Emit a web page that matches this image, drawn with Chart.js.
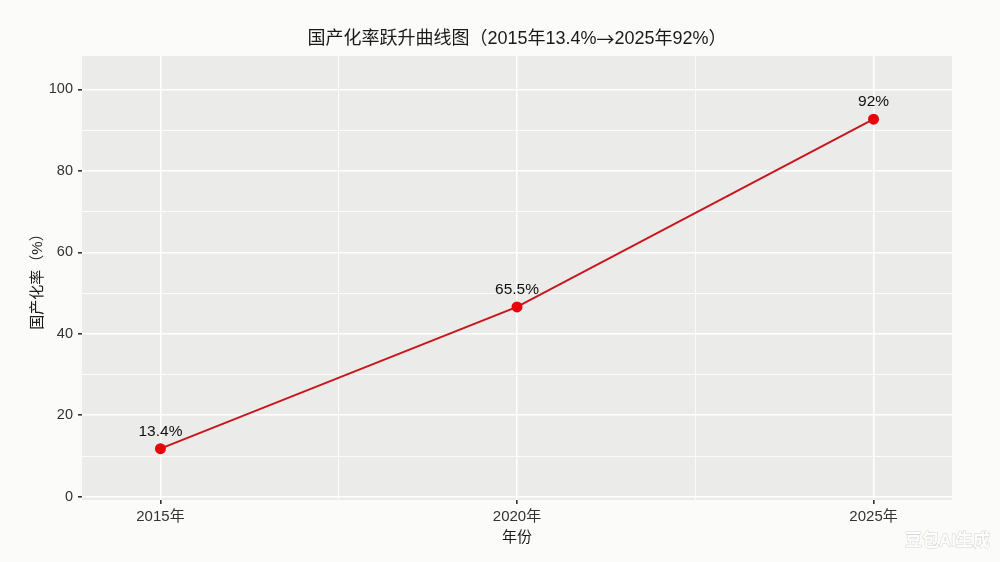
<!DOCTYPE html>
<html>
<head>
<meta charset="utf-8">
<script src="https://cdn.jsdelivr.net/npm/chart.js@4"></script>
<style>
  html, body { margin: 0; padding: 0; background: #fbfbfa; }
  #wrap { width: 1000px; height: 562px; }
</style>
</head>
<body>
<div id="wrap"><canvas id="chart"></canvas></div>
<script>
// 数据
var years = [2015, 2020, 2025];
var rates = [11.8, 46.6, 92.7];
var rateLabels = ['13.4%', '65.5%', '92%'];
var yTicks = [0, 10, 20, 30, 40, 50, 60, 70, 80, 90, 100];
var xTicks = [2015, 2017.5, 2020, 2022.5, 2025];
var chartTitle = '国产化率跃升曲线图（2015年13.4%→2025年92%）';

var FONT = "'Liberation Sans', 'Noto Sans CJK SC', sans-serif";
var CJK = "'Noto Sans CJK SC', sans-serif";

// 标题分段绘制，箭头用 CJK 字体
function drawTitle(c, text, cx, cy) {
  var parts = text.split('→');
  var segs = [];
  parts.forEach(function (p, i) {
    if (i > 0) segs.push({ t: '→', f: '18px ' + CJK });
    segs.push({ t: p, f: '18px ' + FONT });
  });
  var total = 0;
  segs.forEach(function (s) { c.font = s.f; s.w = c.measureText(s.t).width; total += s.w; });
  var x = cx - total / 2;
  c.textAlign = 'left';
  segs.forEach(function (s) { c.font = s.f; c.fillText(s.t, x, cy); x += s.w; });
}

// 灰色面板背景 + 标题 + 点标签 + 水印
var ggPanel = {
  id: 'ggPanel',
  beforeDraw: function (chart) {
    var a = chart.chartArea, c = chart.ctx;
    c.save();
    c.fillStyle = '#ebebea';
    c.fillRect(a.left, a.top, a.right - a.left, a.bottom - a.top);
    c.restore();
  },
  afterDatasetsDraw: function (chart) {
    var c = chart.ctx, a = chart.chartArea;
    var xs = chart.scales.x, ys = chart.scales.y;
    c.save();
    c.textBaseline = 'middle';
    c.fillStyle = '#1a1a1a';
    drawTitle(c, chartTitle, (a.left + a.right) / 2, 39);
    // 数值标签
    c.textAlign = 'center';
    c.font = '15.5px ' + FONT;
    c.fillStyle = '#111';
    rates.forEach(function (v, i) {
      c.fillText(rateLabels[i], xs.getPixelForValue(years[i]), ys.getPixelForValue(v) - 17);
    });
    // 水印
    c.font = 'bold 17px ' + FONT;
    c.textAlign = 'right';
    c.lineWidth = 1;
    c.strokeStyle = 'rgba(200,200,200,0.7)';
    c.strokeText('豆包AI生成', 990, 541);
    c.fillStyle = 'rgba(255,255,255,0.9)';
    c.fillText('豆包AI生成', 990, 541);
    c.restore();
  }
};

var ctx = document.getElementById('chart').getContext('2d');
var chart = new Chart(ctx, {
  type: 'line',
  data: {
    datasets: [{
      data: years.map(function (y, i) { return { x: y, y: rates[i] }; }),
      borderColor: '#c8161c',
      borderWidth: 2,
      pointBackgroundColor: '#e8000b',
      pointBorderWidth: 0,
      pointRadius: 5.5,
      tension: 0
    }]
  },
  options: {
    responsive: true,
    maintainAspectRatio: false,
    animation: false,
    layout: { padding: { top: 56, right: 48 } },
    plugins: {
      legend: { display: false },
      tooltip: { enabled: false },
      title: { display: false }
    },
    scales: {
      x: {
        type: 'linear',
        min: 2013.9,
        max: 2026.1,
        afterBuildTicks: function (s) { s.ticks = xTicks.map(function (v) { return { value: v }; }); },
        afterFit: function (s) { s.height = 62; },
        border: { display: false },
        grid: {
          color: '#ffffff',
          lineWidth: function (c) { return c.tick && c.tick.value % 5 === 0 ? 1.6 : 0.8; },
          tickColor: function (c) { return c.tick && c.tick.value % 5 === 0 ? '#333' : 'transparent'; },
          tickLength: 4
        },
        ticks: {
          color: '#333',
          padding: 4,
          font: { family: FONT, size: 15 },
          autoSkip: false,
          maxRotation: 0,
          callback: function (v) { return v % 5 === 0 ? v + '年' : ''; }
        },
        title: {
          display: true,
          text: '年份',
          color: '#1a1a1a',
          font: { family: FONT, size: 15 },
          padding: { top: 0, bottom: 15 }
        }
      },
      y: {
        min: -0.8,
        max: 108.2,
        afterBuildTicks: function (s) { s.ticks = yTicks.map(function (v) { return { value: v }; }); },
        afterFit: function (s) { s.width = 82; },
        border: { display: false },
        grid: {
          color: '#ffffff',
          lineWidth: function (c) { return c.tick && c.tick.value % 20 === 0 ? 1.6 : 0.8; },
          tickColor: function (c) { return c.tick && c.tick.value % 20 === 0 ? '#333' : 'transparent'; },
          tickLength: 4
        },
        ticks: {
          color: '#333',
          padding: 5,
          font: { family: FONT, size: 14.5 },
          autoSkip: false,
          callback: function (v) { return v % 20 === 0 ? v : ''; }
        },
        title: {
          display: true,
          text: '国产化率（%）',
          color: '#1a1a1a',
          font: { family: FONT, size: 15 },
          padding: { top: 29, bottom: 0 }
        }
      }
    }
  },
  plugins: [ggPanel]
});
</script>
</body>
</html>
